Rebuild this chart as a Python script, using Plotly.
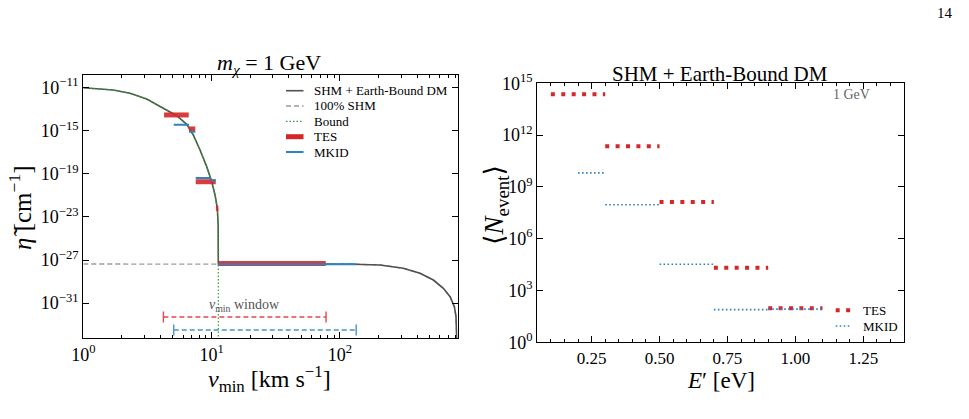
import plotly.graph_objects as go
import numpy as np

# ---------------- data: left panel (eta-tilde vs v_min) ----------------
v_curve = [1.0, 1.71, 2.31, 3.12, 4.20, 5.35, 6.40, 7.20, 8.12, 9.16, 10.02, 10.64,
           11.08, 11.25, 11.26, 11.28, 30.0, 60.0, 100.0, 127.0, 205.0, 312.0, 421.0,
           535.0, 640.0, 722.0, 780.0, 803.0, 812.0, 812.5]
log_eta_curve = [-11.0, -11.21, -11.52, -12.05, -12.91, -13.60, -14.40, -15.39, -16.78,
                 -18.33, -19.73, -20.96, -22.2, -23.75, -25.5, -27.37, -27.37, -27.37,
                 -27.38, -27.39, -27.46, -27.77, -28.23, -28.86, -29.63, -30.41, -31.33,
                 -32.26, -34.0, -40.0]

v_shm = [1.0, 3.0, 11.28, 30.0, 60.0, 100.0, 127.0, 205.0, 312.0, 421.0, 535.0, 640.0,
         722.0, 780.0, 803.0, 812.0, 812.5]
log_eta_shm = [-27.37, -27.37, -27.37, -27.37, -27.37, -27.38, -27.39, -27.46, -27.77,
               -28.23, -28.86, -29.63, -30.41, -31.33, -32.26, -34.0, -40.0]

v_bound = [1.0, 1.71, 2.31, 3.12, 4.20, 5.35, 6.40, 7.20, 8.12, 9.16, 10.02, 10.64,
           11.08, 11.25, 11.28, 11.28]
log_eta_bound = [-11.0, -11.21, -11.52, -12.05, -12.91, -13.60, -14.40, -15.39, -16.78,
                 -18.33, -19.73, -20.96, -22.2, -23.75, -26.0, -40.0]

tes_v_lo = [4.26, 6.66, 7.52, 10.8, 11.28]
tes_v_hi = [6.63, 7.46, 10.77, 11.3, 77.6]
tes_log_eta = [-13.53, -14.83, -19.73, -22.2, -27.33]

mkid_v_lo = [5.07, 6.66, 7.52, 9.84, 11.28]
mkid_v_hi = [6.66, 7.46, 9.84, 10.77, 133.0]
mkid_log_eta = [-14.43, -15.08, -19.38, -19.62, -27.40]

win_tes = [4.21, 78.0]
win_tes_log_eta = -32.29
win_mkid = [5.07, 134.0]
win_mkid_log_eta = -33.5

left_xticks = [1, 10, 100]
left_xticklabels = ["10<sup>0</sup>", "10<sup>1</sup>", "10<sup>2</sup>"]
left_yticks_exp = [-11, -15, -19, -23, -27, -31]

left_legend_names = ["SHM + Earth-Bound DM", "100% SHM", "Bound", "TES", "MKID"]

# ---------------- data: right panel (N_event vs E') ----------------
tes_E_lo = [0.1, 0.3, 0.5, 0.7, 0.9]
tes_E_hi = [0.3, 0.5, 0.7, 0.9, 1.1]
tes_log_N = [14.36, 11.35, 8.13, 4.32, 1.97]

mkid_E_lo = [0.2, 0.3, 0.5, 0.7, 0.9]
mkid_E_hi = [0.3, 0.5, 0.7, 0.9, 1.1]
mkid_log_N = [9.81, 7.97, 4.52, 1.89, 1.92]

right_xticks = [0.25, 0.50, 0.75, 1.00, 1.25]
right_xticklabels = ["0.25", "0.50", "0.75", "1.00", "1.25"]
right_yticks_exp = [0, 3, 6, 9, 12, 15]

right_legend_names = ["TES", "MKID"]

# ---------------- styling ----------------
FONT = "Liberation Serif, DejaVu Serif, serif"
RED = "#d62728"
BLUE = "#2f82c0"
GREEN = "#2ca02c"
DARK = "#505050"
GRAY = "#9a9a9a"

W, H = 969, 419

st_curve = dict(color=DARK, width=1.6)
st_shm = dict(color=GRAY, width=1.3, dash="5px,3px")
st_bound = dict(color=GREEN, width=1.2, dash="1.5px,2px")
st_tes_l = dict(color=RED, width=5)
st_mkid_l = dict(color=BLUE, width=2)
st_tes_r = dict(color=RED, width=4, dash="4px,6.4px")
st_mkid_r = dict(color=BLUE, width=1.6, dash="1.6px,2.4px")


def segs(lo, hi, vals):
    xs, ys = [], []
    for a, b, v in zip(lo, hi, vals):
        xs += [a, b, None]
        ys += [10.0 ** v, 10.0 ** v, None]
    return xs, ys


def pw(e):
    return 10.0 ** e


fig = go.Figure()

# left panel
fig.add_trace(go.Scatter(x=v_shm, y=[pw(e) for e in log_eta_shm], mode="lines",
                         line=st_shm, name="100% SHM", showlegend=False,
                         xaxis="x", yaxis="y"))
fig.add_trace(go.Scatter(x=v_curve, y=[pw(e) for e in log_eta_curve], mode="lines",
                         line=st_curve, name="SHM + Earth-Bound DM", showlegend=False,
                         xaxis="x", yaxis="y"))
fig.add_trace(go.Scatter(x=v_bound, y=[pw(e) for e in log_eta_bound], mode="lines",
                         line=st_bound, name="Bound", showlegend=False,
                         xaxis="x", yaxis="y"))
xs, ys = segs(tes_v_lo, tes_v_hi, tes_log_eta)
fig.add_trace(go.Scatter(x=xs, y=ys, mode="lines", line=st_tes_l, opacity=0.9,
                         name="TES", showlegend=False, xaxis="x", yaxis="y"))
xs, ys = segs(mkid_v_lo, mkid_v_hi, mkid_log_eta)
fig.add_trace(go.Scatter(x=xs, y=ys, mode="lines", line=st_mkid_l,
                         name="MKID", showlegend=False, xaxis="x", yaxis="y"))
# v_min windows
for win, e, col in [(win_tes, win_tes_log_eta, "#e8474a"), (win_mkid, win_mkid_log_eta, "#4a92cc")]:
    fig.add_trace(go.Scatter(x=win, y=[pw(e), pw(e)], mode="lines+markers",
                             line=dict(color=col, width=1.4, dash="5px,3px"),
                             marker=dict(symbol="line-ns-open", size=8,
                                         line=dict(color=col, width=1.4)),
                             showlegend=False, xaxis="x", yaxis="y"))

# right panel
xs, ys = segs(tes_E_lo, tes_E_hi, tes_log_N)
fig.add_trace(go.Scatter(x=xs, y=ys, mode="lines", line=st_tes_r,
                         name="TES", showlegend=False, xaxis="x2", yaxis="y2"))
xs, ys = segs(mkid_E_lo, mkid_E_hi, mkid_log_N)
fig.add_trace(go.Scatter(x=xs, y=ys, mode="lines", line=st_mkid_r,
                         name="MKID", showlegend=False, xaxis="x2", yaxis="y2"))

axis_common = dict(showline=True, linecolor="black", linewidth=1.3, mirror="allticks",
                   ticks="inside", ticklen=6, tickwidth=1, tickcolor="black",
                   showgrid=False, zeroline=False, automargin=False)
tf_log = dict(family=FONT, size=18, color="black")
tf_lin = dict(family=FONT, size=17, color="black")

left_minor = [m * 10 ** d for d in range(0, 3) for m in range(2, 10)]

fig.update_layout(
    width=W, height=H, autosize=False,
    margin=dict(l=0, r=0, t=0, b=0, autoexpand=False),
    paper_bgcolor="white", plot_bgcolor="white",
    font=dict(family=FONT, color="black"),
    showlegend=False,
    xaxis=dict(type="log", range=[0, np.log10(828)], domain=[83.3 / W, 457.7 / W],
               tickvals=left_xticks, ticktext=left_xticklabels, tickfont=tf_log,
               minor=dict(tickvals=left_minor, ticks="inside", ticklen=3,
                          tickcolor="black", showgrid=False),
               anchor="y", **axis_common),
    yaxis=dict(type="log", range=[-34.27, -9.82], domain=[1 - 338.3 / H, 1 - 75 / H],
               tickvals=[pw(e) for e in left_yticks_exp], tickfont=tf_log,
               ticktext=["10<sup>−%d</sup>" % (-e) for e in left_yticks_exp],
               anchor="x", **axis_common),
    xaxis2=dict(type="linear", range=[0.05, 1.4], domain=[537.3 / W, 904 / W],
                tickvals=right_xticks, ticktext=right_xticklabels, tickfont=tf_lin,
                minor=dict(dtick=0.05, tick0=0, ticks="inside", ticklen=3,
                           tickcolor="black", showgrid=False),
                anchor="y2", **axis_common),
    yaxis2=dict(type="log", range=[0, 15], domain=[1 - 342.3 / H, 1 - 83.3 / H],
                tickvals=[pw(e) for e in right_yticks_exp], tickfont=tf_log,
                ticktext=["10<sup>%d</sup>" % e for e in right_yticks_exp],
                anchor="x2", **axis_common),
)

# ---- legends drawn as sample lines + labels (matplotlib-like compact spacing) ----
shapes = []
annotations = []
left_leg_styles = [st_curve, st_shm, st_bound, st_tes_l, st_mkid_l]
left_rows = [90.7, 106.0, 121.3, 136.7, 152.0]
for name, st, yy in zip(left_legend_names, left_leg_styles, left_rows):
    shapes.append(dict(type="line", xref="paper", yref="paper",
                       x0=286 / W, x1=303.5 / W, y0=1 - yy / H, y1=1 - yy / H,
                       line=st))
    annotations.append(dict(text=name, x=312 / W, y=1 - yy / H, xref="paper", yref="paper",
                            xanchor="left", yanchor="middle", showarrow=False,
                            font=dict(family=FONT, size=13, color="black")))
right_leg_styles = [st_tes_r, st_mkid_r]
right_rows = [310.3, 326.0]
for name, st, yy in zip(right_legend_names, right_leg_styles, right_rows):
    shapes.append(dict(type="line", xref="paper", yref="paper",
                       x0=835.7 / W, x1=850.5 / W, y0=1 - yy / H, y1=1 - yy / H,
                       line=st))
    annotations.append(dict(text=name, x=861 / W, y=1 - yy / H, xref="paper", yref="paper",
                            xanchor="left", yanchor="middle", showarrow=False,
                            font=dict(family=FONT, size=13, color="black")))

ann = [
    dict(text="<i>m</i><sub><i>χ</i></sub> = 1 GeV", x=269 / W, y=1 - 64 / H, size=22, color="black"),
    dict(text="SHM + Earth-Bound DM", x=720 / W, y=1 - 73.5 / H, size=21, color="black"),
    dict(text="<i>v</i><sub>min</sub> [km s<sup>−1</sup>]", x=269 / W, y=1 - 379 / H, size=24, color="black"),
    dict(text="<i>E</i>′ [eV]", x=721 / W, y=1 - 380 / H, size=23, color="black"),
    dict(text="<i>v</i><sub>min</sub> window", x=244 / W, y=1 - 305 / H, size=14, color="#555555"),
    dict(text="1 GeV", x=851.7 / W, y=1 - 94.3 / H, size=14, color="#666666"),
    dict(text="14", x=945 / W, y=1 - 13 / H, size=15, color="black"),
]
for a in ann:
    annotations.append(dict(text=a["text"], x=a["x"], y=a["y"], xref="paper", yref="paper",
                            xanchor="center", yanchor="middle", showarrow=False,
                            font=dict(family=FONT, size=a["size"], color=a["color"])))
annotations.append(dict(text="<i>η̃</i> [cm<sup>−1</sup>]", x=20 / W, y=1 - 208 / H,
                        xref="paper", yref="paper", xanchor="center", yanchor="middle",
                        showarrow=False, textangle=-90,
                        font=dict(family=FONT, size=25, color="black")))
annotations.append(dict(text="⟨<i>N</i><sub>event</sub>⟩", x=496 / W, y=1 - 205 / H,
                        xref="paper", yref="paper", xanchor="center", yanchor="middle",
                        showarrow=False, textangle=-90,
                        font=dict(family=FONT, size=27, color="black")))
fig.update_layout(annotations=annotations, shapes=shapes)

fig.write_html("out.html")
